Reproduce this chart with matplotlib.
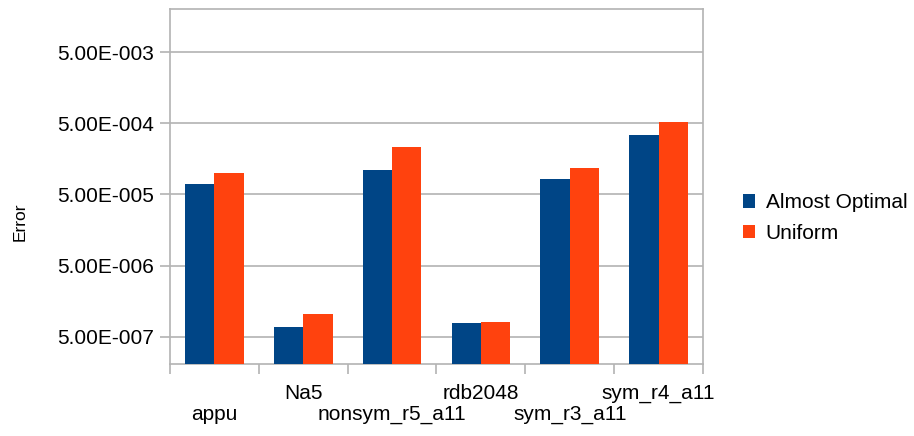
import matplotlib
matplotlib.use('Agg')
import matplotlib.pyplot as plt
import numpy as np
from matplotlib.ticker import FuncFormatter, FixedLocator

plt.rcParams['font.family'] = ['Liberation Sans', 'DejaVu Sans']

categories = ['appu', 'Na5', 'nonsym_r5_a11', 'rdb2048', 'sym_r3_a11', 'sym_r4_a11']
almost_optimal = [7.1e-5, 6.8e-7, 1.09e-4, 7.8e-7, 8.3e-5, 3.44e-4]
uniform = [1.0e-4, 1.04e-6, 2.33e-4, 8.1e-7, 1.17e-4, 5.3e-4]
yticks = [5e-7, 5e-6, 5e-5, 5e-4, 5e-3]

blue = '#004586'
orange = '#ff420e'
grey = '#b3b3b3'


def sci_fmt(v, pos):
    m, e = f"{v:.2E}".split("E")
    return f"{m}E{int(e):+04d}"


fig = plt.figure(figsize=(9.14, 4.36), dpi=100)
ax = fig.add_axes([170 / 914, 1 - 364.3 / 436, (703 - 170) / 914, (364.3 - 9) / 436])

x = np.arange(len(categories))
w = 0.33
ax.bar(x - w / 2, almost_optimal, w, color=blue, label='Almost Optimal', zorder=3)
ax.bar(x + w / 2, uniform, w, color=orange, label='Uniform', zorder=3)

ax.set_yscale('log')
ax.set_ylim(2.04e-7, 2.03e-2)
ax.set_xlim(-0.5, len(categories) - 0.5)
ax.yaxis.set_major_locator(FixedLocator(yticks))
ax.yaxis.set_minor_locator(FixedLocator([]))
ax.yaxis.set_major_formatter(FuncFormatter(sci_fmt))
ax.grid(axis='y', color=grey, linewidth=1.2, zorder=0)

# staggered category labels
labels = [('\n' + c) if i % 2 == 0 else c for i, c in enumerate(categories)]
ax.set_xticks(x)
ax.set_xticklabels(labels, fontsize=15, linespacing=1.15)
ax.set_xticks(np.arange(len(categories) + 1) - 0.5, minor=True)
ax.tick_params(axis='x', which='major', length=0, pad=14)
ax.tick_params(axis='x', which='minor', length=7, width=1.2, color=grey)
ax.tick_params(axis='y', which='major', length=7.5, width=1.2, color=grey,
               labelsize=15, pad=4)

for s in ax.spines.values():
    s.set_color(grey)
    s.set_linewidth(1.2)

fig.text(20 / 914, 1 - 222 / 436, 'Error', rotation=90, fontsize=12.5,
         ha='center', va='center')

fig.legend(loc='center left', bbox_to_anchor=(724 / 914, 1 - 218 / 436),
           frameon=False, fontsize=15, handlelength=0.6, handleheight=0.6,
           handletextpad=0.5, labelspacing=0.55)

fig.savefig('out.png', dpi=100)
